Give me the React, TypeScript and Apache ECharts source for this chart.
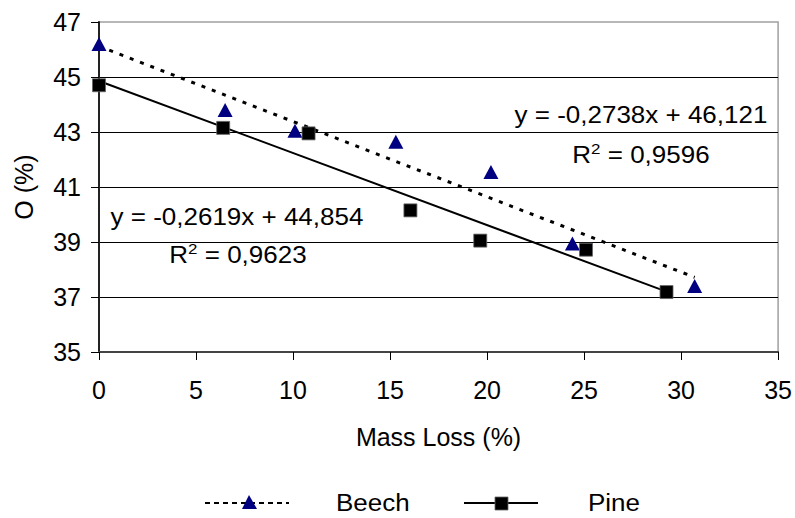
import React, { useEffect, useRef } from "react";
import * as echarts from "echarts";

const beechX = [0, 6.5, 10.1, 15.3, 20.2, 24.4, 30.7];
const beechY = [46.2, 43.8, 43.05, 42.65, 41.55, 38.95, 37.4];
const pineX = [0, 6.4, 10.8, 16.05, 19.65, 25.1, 29.25];
const pineY = [44.7, 43.15, 42.95, 40.15, 39.05, 38.72, 37.18];

const beechSlope = -0.2738;
const beechIntercept = 46.121;
const pineSlope = -0.2619;
const pineIntercept = 44.854;

const beechEq = "y = -0,2738x + 46,121";
const beechR2 = "0,9596";
const pineEq = "y = -0,2619x + 44,854";
const pineR2 = "0,9623";

const xTicks = { min: 0, max: 35, interval: 5 };
const yTicks = { min: 35, max: 47, interval: 2 };

const FONT = "'Liberation Sans', Arial, sans-serif";
const SX = 1.13;

export default function App() {
  const ref = useRef<HTMLDivElement>(null);
  useEffect(() => {
    if (!ref.current) return;
    const chart = echarts.init(ref.current, undefined, { renderer: "svg" });
    const bxMax = Math.max(...beechX);
    const pxMax = Math.max(...pineX);
    const beechTrend = [
      [0, beechIntercept],
      [bxMax, beechIntercept + beechSlope * bxMax],
    ];
    const pineTrend = [
      [0, pineIntercept],
      [pxMax, pineIntercept + pineSlope * pxMax],
    ];
    const supRich = {
      s: { fontSize: 15, fontFamily: FONT, fill: "#000", verticalAlign: "top", padding: [0, 0, 12, 0] },
    };
    const txt = (x: number, y: number, text: string, align: string, rich?: any) => ({
      type: "text",
      x,
      y,
      scaleX: SX,
      style: {
        text,
        font: `23px ${FONT}`,
        fill: "#000",
        align,
        verticalAlign: "middle",
        ...(rich ? { rich } : {}),
      },
    });
    chart.setOption({
      animation: false,
      backgroundColor: "#fff",
      textStyle: { fontFamily: FONT },
      grid: {
        left: 99,
        right: 16,
        top: 22,
        bottom: 166,
        show: true,
        borderColor: "#a0a0a0",
        borderWidth: 1.5,
        backgroundColor: "transparent",
      },
      xAxis: {
        type: "value",
        min: xTicks.min,
        max: xTicks.max,
        interval: xTicks.interval,
        name: "Mass Loss (%)",
        nameLocation: "middle",
        nameGap: 72,
        nameTextStyle: { fontSize: 25, color: "#000", fontFamily: FONT },
        axisLine: { onZero: false, lineStyle: { color: "#444", width: 2 } },
        axisTick: { show: true, length: 8, lineStyle: { color: "#000", width: 1 } },
        axisLabel: { fontSize: 25, color: "#000", margin: 25, fontFamily: FONT },
        splitLine: { show: false },
      },
      yAxis: {
        type: "value",
        min: yTicks.min,
        max: yTicks.max,
        interval: yTicks.interval,
        name: "O (%)",
        nameLocation: "middle",
        nameGap: 63,
        nameRotate: 90,
        nameTextStyle: { fontSize: 25, color: "#000", fontFamily: FONT },
        axisLine: { onZero: false, lineStyle: { color: "#222", width: 2 } },
        axisTick: { show: true, length: 8, lineStyle: { color: "#000", width: 1 } },
        axisLabel: { fontSize: 25, color: "#000", margin: 18, fontFamily: FONT },
        splitLine: { show: true, showMinLine: false, showMaxLine: false, lineStyle: { color: "#000", width: 1 } },
      },
      series: [
        {
          name: "Beech trend",
          type: "line",
          data: beechTrend,
          showSymbol: false,
          symbol: "none",
          lineStyle: { color: "#000", width: 3, type: [4, 7] },
          z: 2,
          silent: true,
        },
        {
          name: "Pine trend",
          type: "line",
          data: pineTrend,
          showSymbol: false,
          symbol: "none",
          lineStyle: { color: "#000", width: 2 },
          z: 2,
          silent: true,
        },
        {
          name: "Beech",
          type: "scatter",
          data: beechX.map((x, i) => [x, beechY[i]]),
          symbol: "triangle",
          symbolSize: [15, 14],
          itemStyle: { color: "#000080", opacity: 1 },
          z: 3,
        },
        {
          name: "Pine",
          type: "scatter",
          data: pineX.map((x, i) => [x, pineY[i]]),
          symbol: "rect",
          symbolSize: 13,
          itemStyle: { color: "#000", borderColor: "#666", borderWidth: 0.8, opacity: 1 },
          z: 4,
        },
      ],
      graphic: [
        {
          type: "group",
          left: 507,
          top: 98,
          children: [
            { type: "rect", shape: { x: 0, y: 0, width: 268, height: 70 }, style: { fill: "#fff" } },
            txt(134, 17, beechEq, "center"),
            txt(134, 57, "R{s|2} = " + beechR2, "center", supRich),
          ],
        },
        {
          type: "group",
          left: 105,
          top: 199,
          children: [
            { type: "rect", shape: { x: 0, y: 0, width: 268, height: 74 }, style: { fill: "#fff" } },
            txt(132, 18, pineEq, "center"),
            txt(133, 56, "R{s|2} = " + pineR2, "center", supRich),
          ],
        },
        // legend
        { type: "line", shape: { x1: 205, y1: 503, x2: 289, y2: 503 }, style: { stroke: "#000", lineWidth: 2, lineDash: [5, 4] } },
        { type: "polygon", shape: { points: [[249, 495], [242, 509], [257, 509]] }, style: { fill: "#000080" } },
        txt(336, 503, "Beech", "left"),
        { type: "line", shape: { x1: 464, y1: 503, x2: 538, y2: 503 }, style: { stroke: "#000", lineWidth: 2 } },
        { type: "rect", shape: { x: 495, y: 497, width: 13, height: 13 }, style: { fill: "#000", stroke: "#666", lineWidth: 0.8 } },
        txt(588, 503, "Pine", "left"),
      ],
    });
    return () => chart.dispose();
  }, []);
  return <div ref={ref} style={{ width: 795, height: 518, position: "absolute", left: 0, top: 0 }} />;
}
